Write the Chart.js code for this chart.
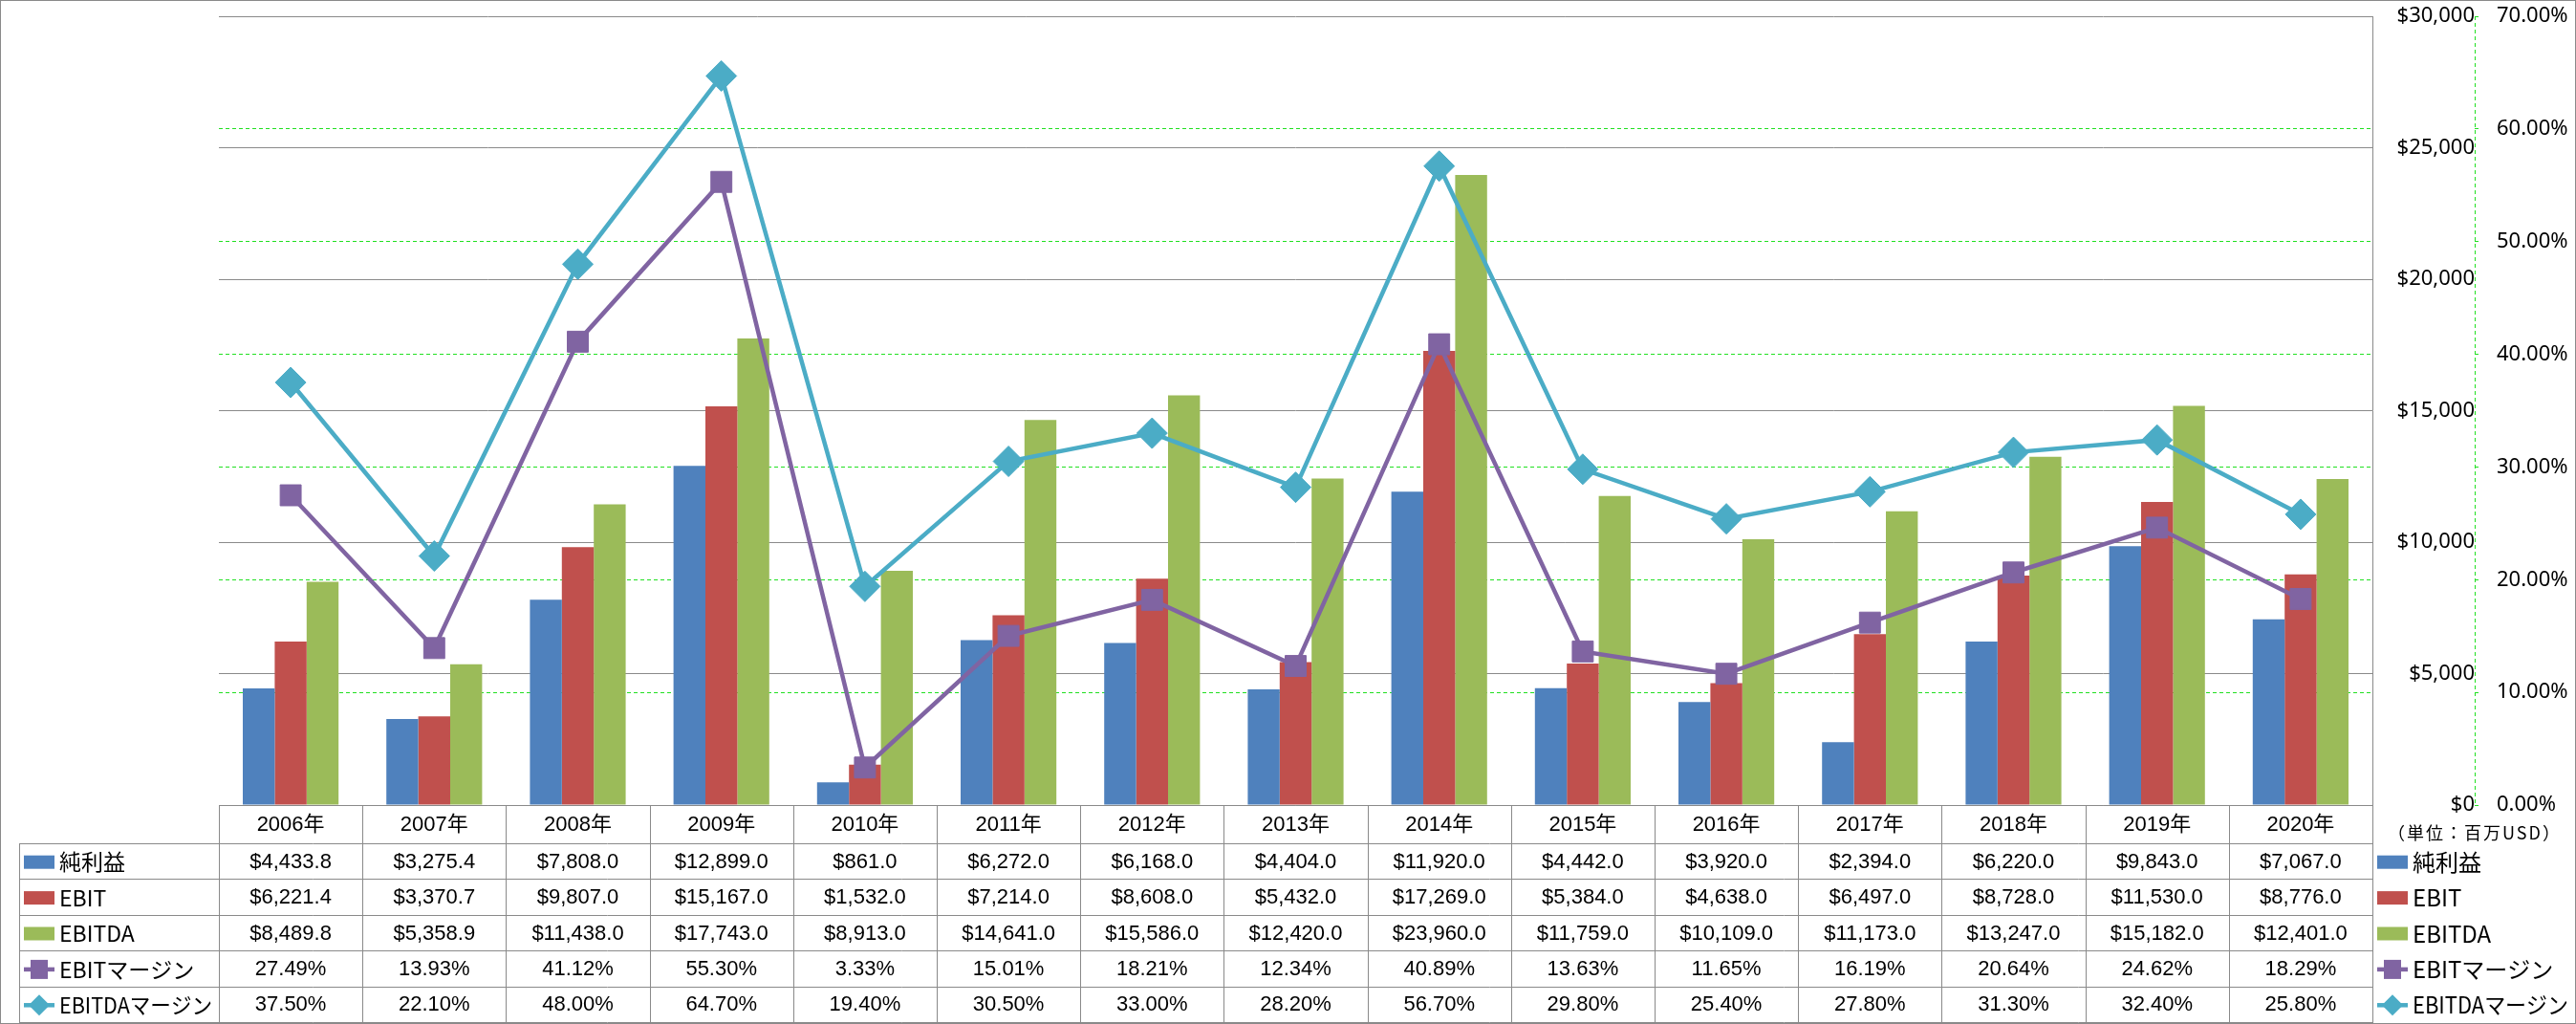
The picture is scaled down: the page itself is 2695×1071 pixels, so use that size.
<!DOCTYPE html>
<html lang="ja">
<head>
<meta charset="UTF-8">
<title>純利益・EBIT・EBITDA</title>
<script src="https://cdn.jsdelivr.net/npm/chart.js"></script>
<style>
  body { margin: 0; background: #fff; }
  #wrap { width: 2695px; height: 1071px; }
</style>
</head>
<body>
<div id="wrap"><canvas id="chart" width="2695" height="1071"></canvas></div>

<script>
// data (単位: 百万USD)
const years = ['2006年', '2007年', '2008年', '2009年', '2010年', '2011年', '2012年', '2013年',
               '2014年', '2015年', '2016年', '2017年', '2018年', '2019年', '2020年'];
const netIncome = [4433.8, 3275.4, 7808.0, 12899.0, 861.0, 6272.0, 6168.0, 4404.0,
                   11920.0, 4442.0, 3920.0, 2394.0, 6220.0, 9843.0, 7067.0];
const ebit = [6221.4, 3370.7, 9807.0, 15167.0, 1532.0, 7214.0, 8608.0, 5432.0,
              17269.0, 5384.0, 4638.0, 6497.0, 8728.0, 11530.0, 8776.0];
const ebitda = [8489.8, 5358.9, 11438.0, 17743.0, 8913.0, 14641.0, 15586.0, 12420.0,
                23960.0, 11759.0, 10109.0, 11173.0, 13247.0, 15182.0, 12401.0];
const ebitMargin = [27.49, 13.93, 41.12, 55.30, 3.33, 15.01, 18.21, 12.34,
                    40.89, 13.63, 11.65, 16.19, 20.64, 24.62, 18.29];
const ebitdaMargin = [37.50, 22.10, 48.00, 64.70, 19.40, 30.50, 33.00, 28.20,
                      56.70, 29.80, 25.40, 27.80, 31.30, 32.40, 25.80];

const BLUE = '#4F81BD', RED = '#C0504D', OLIVE = '#9BBB59';
const PURPLE = '#8064A2', CYAN = '#4BACC6';
const GRAY = '#8a8a8a', GREEN = '#22e022';
const DASH = [4, 3];

const money = v => '$' + v.toLocaleString('en-US', {minimumFractionDigits: 1, maximumFractionDigits: 1});
const pct = v => v.toFixed(2) + '%';

// rows of the data table under the plot
const rows = [
  {name: '純利益', values: netIncome, fmt: money, kind: 'bar', color: BLUE},
  {name: 'EBIT', values: ebit, fmt: money, kind: 'bar', color: RED},
  {name: 'EBITDA', values: ebitda, fmt: money, kind: 'bar', color: OLIVE},
  {name: 'EBITマージン', values: ebitMargin, fmt: pct, kind: 'square', color: PURPLE},
  {name: 'EBITDAマージン', values: ebitdaMargin, fmt: pct, kind: 'diamond', color: CYAN}
];

function drawKey(ctx, row, x, cy) {
  ctx.save();
  ctx.fillStyle = row.color;
  ctx.strokeStyle = row.color;
  if (row.kind === 'bar') {
    ctx.fillRect(x, cy - 7, 32, 14);
  } else {
    ctx.lineWidth = 4.5;
    ctx.beginPath(); ctx.moveTo(x, cy); ctx.lineTo(x + 32, cy); ctx.stroke();
    const mx = x + 16;
    if (row.kind === 'square') {
      ctx.fillRect(mx - 9, cy - 10, 18, 20);
    } else {
      ctx.beginPath();
      ctx.moveTo(mx, cy - 11); ctx.lineTo(mx + 11, cy); ctx.lineTo(mx, cy + 11); ctx.lineTo(mx - 11, cy);
      ctx.closePath(); ctx.fill();
    }
  }
  ctx.restore();
}

const tablePlugin = {
  id: 'dataTable',
  afterDraw(chart) {
    const {ctx, chartArea: a} = chart;
    const n = years.length;
    const cw = (a.right - a.left) / n;
    const top = a.bottom;
    const headH = 40;
    const bottom = 1069;
    const rowH = (bottom - top - headH) / rows.length;
    const tableLeft = 20;

    ctx.save();
    // dashed % axis line
    const px = Math.round(chart.scales.yPct.left) + 0.5;
    ctx.strokeStyle = GREEN;
    ctx.lineWidth = 1;
    ctx.setLineDash(DASH);
    ctx.beginPath(); ctx.moveTo(px, a.top); ctx.lineTo(px, a.bottom); ctx.stroke();
    ctx.setLineDash([]);

    ctx.strokeStyle = GRAY;
    ctx.beginPath();
    ctx.moveTo(a.left, top + 0.5); ctx.lineTo(a.right, top + 0.5);
    for (let r = 0; r <= rows.length; r++) {
      const y = Math.round(top + headH + r * rowH) + 0.5;
      ctx.moveTo(tableLeft, y); ctx.lineTo(a.right, y);
    }
    ctx.moveTo(tableLeft + 0.5, top + headH); ctx.lineTo(tableLeft + 0.5, bottom);
    for (let i = 0; i <= n; i++) {
      const x = Math.round(a.left + i * cw) + 0.5;
      ctx.moveTo(x, top); ctx.lineTo(x, bottom + 1);
    }
    // right edge of the plot
    ctx.moveTo(Math.round(a.right) + 0.5, a.top); ctx.lineTo(Math.round(a.right) + 0.5, top);
    ctx.stroke();

    // header: years
    ctx.fillStyle = '#000';
    ctx.textAlign = 'center';
    ctx.textBaseline = 'middle';
    ctx.font = '22px "Liberation Sans", "Noto Sans CJK JP"';
    const xs = chart.scales.x;
    years.forEach((y, i) => ctx.fillText(y, xs.getPixelForValue(i), top + headH / 2 + 1));

    // body
    rows.forEach((row, r) => {
      const cy = top + headH + (r + 0.5) * rowH + 1;
      row.values.forEach((v, i) => ctx.fillText(row.fmt(v), xs.getPixelForValue(i), cy));
      drawKey(ctx, row, 25, cy);
      ctx.textAlign = 'left';
      ctx.font = '23px "Noto Sans CJK JP"';
      ctx.fillText(row.name, 62, cy, 160);
      // legend on the right
      drawKey(ctx, row, 2487, cy);
      ctx.font = '24px "Noto Sans CJK JP"';
      ctx.fillText(row.name, 2524, cy, 163);
      ctx.textAlign = 'center';
      ctx.font = '22px "Liberation Sans", "Noto Sans CJK JP"';
    });

    ctx.textAlign = 'left';
    ctx.font = '18px "Noto Sans CJK JP"';
    ctx.letterSpacing = '2px';
    ctx.fillText('（単位：百万USD）', 2498, 871);
    ctx.letterSpacing = '0px';

    // outer frame
    ctx.strokeStyle = GRAY;
    ctx.strokeRect(0.5, 0.5, chart.width - 1, chart.height - 1);
    ctx.restore();
  }
};

const axisFont = {family: '"Noto Sans"', size: 22};
const noPad = s => { s.paddingTop = 0; s.paddingBottom = 0; };

new Chart(document.getElementById('chart'), {
  type: 'bar',
  data: {
    labels: years,
    datasets: [
      {type: 'line', label: 'EBITマージン', data: ebitMargin, yAxisID: 'yPct',
       borderColor: PURPLE, backgroundColor: PURPLE, borderWidth: 4.5,
       pointStyle: 'rect', pointRadius: 15.5, pointBorderWidth: 1, order: 0},
      {type: 'line', label: 'EBITDAマージン', data: ebitdaMargin, yAxisID: 'yPct',
       borderColor: CYAN, backgroundColor: CYAN, borderWidth: 4.5,
       pointStyle: 'rectRot', pointRadius: 16, pointBorderWidth: 1, order: 0},
      {label: '純利益', data: netIncome, backgroundColor: BLUE, yAxisID: 'yUsd', order: 1},
      {label: 'EBIT', data: ebit, backgroundColor: RED, yAxisID: 'yUsd', order: 1},
      {label: 'EBITDA', data: ebitda, backgroundColor: OLIVE, yAxisID: 'yUsd', order: 1}
    ]
  },
  options: {
    responsive: false,
    devicePixelRatio: 1,
    animation: false,
    layout: {padding: {left: 229, top: 15, right: 1, bottom: 229}},
    datasets: {bar: {categoryPercentage: 0.667, barPercentage: 1.0}},
    plugins: {legend: {display: false}, tooltip: {enabled: false}},
    scales: {
      x: {display: false},
      yUsd: {
        position: 'right', weight: 0,
        min: 0, max: 30000,
        ticks: {stepSize: 5000, color: '#000', font: axisFont, crossAlign: 'far', padding: 22,
                callback: v => '$' + v.toLocaleString('en-US')},
        grid: {color: GRAY, drawTicks: false},
        border: {display: false},
        afterFit: s => { s.width = 107; noPad(s); }
      },
      yPct: {
        position: 'right', weight: 1,
        min: 0, max: 70,
        ticks: {stepSize: 10, color: '#000', font: axisFont, padding: 19,
                callback: v => v.toFixed(2) + '%'},
        grid: {
          color: c => (c.tick && (c.tick.value === 0 || c.tick.value === 70)) ? 'rgba(0,0,0,0)' : GREEN,
          drawTicks: true, tickLength: 4, tickColor: GREEN, tickBorderDash: DASH
        },
        border: {display: false, dash: DASH},
        afterFit: s => { s.width = 105; noPad(s); }
      }
    }
  },
  plugins: [tablePlugin]
});
</script>
</body>
</html>
